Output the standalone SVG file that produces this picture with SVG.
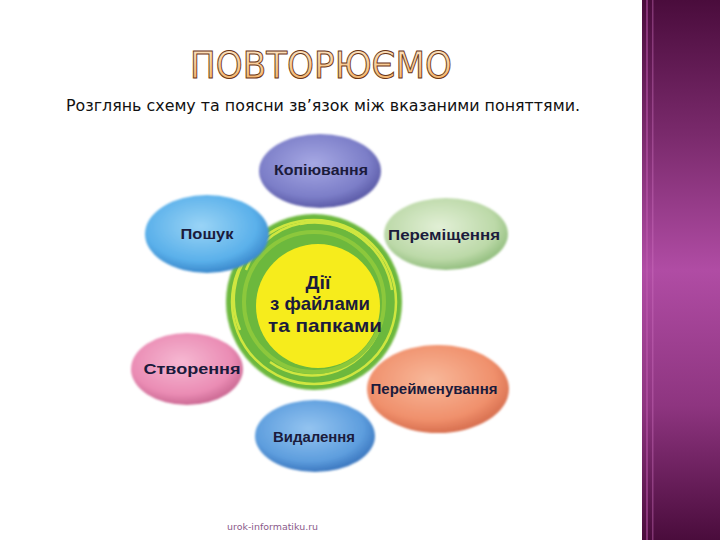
<svg xmlns="http://www.w3.org/2000/svg" width="720" height="540" viewBox="0 0 720 540">
<defs>
<linearGradient id="band" x1="0" y1="0" x2="0" y2="1">
<stop offset="0" stop-color="#4a0c3c"/>
<stop offset="0.25" stop-color="#7a2a6c"/>
<stop offset="0.5" stop-color="#b04ca4"/>
<stop offset="0.75" stop-color="#8e3580"/>
<stop offset="1" stop-color="#4a0c3c"/>
</linearGradient>
<linearGradient id="titleFill" x1="0" y1="0" x2="0" y2="1">
<stop offset="0" stop-color="#fde9cf"/>
<stop offset="0.6" stop-color="#f8c688"/>
<stop offset="1" stop-color="#f3a85a"/>
</linearGradient>
<radialGradient id="gPurple" cx="0.45" cy="0.4" r="0.6">
<stop offset="0" stop-color="#a6a8e4"/><stop offset="0.75" stop-color="#7c7ec8"/><stop offset="1" stop-color="#5c5ca8"/>
</radialGradient>
<radialGradient id="gLBlue" cx="0.45" cy="0.4" r="0.6">
<stop offset="0" stop-color="#9ad4f6"/><stop offset="0.75" stop-color="#5ab0ea"/><stop offset="1" stop-color="#3a88cc"/>
</radialGradient>
<radialGradient id="gGreen" cx="0.45" cy="0.4" r="0.6">
<stop offset="0" stop-color="#e2efd6"/><stop offset="0.75" stop-color="#bcd9a8"/><stop offset="1" stop-color="#94bf80"/>
</radialGradient>
<radialGradient id="gPink" cx="0.45" cy="0.4" r="0.6">
<stop offset="0" stop-color="#f6b8d2"/><stop offset="0.75" stop-color="#ea8cb4"/><stop offset="1" stop-color="#cc6a94"/>
</radialGradient>
<radialGradient id="gSalmon" cx="0.45" cy="0.4" r="0.6">
<stop offset="0" stop-color="#f8b89a"/><stop offset="0.75" stop-color="#f0906c"/><stop offset="1" stop-color="#d87050"/>
</radialGradient>
<radialGradient id="gBlue" cx="0.45" cy="0.4" r="0.6">
<stop offset="0" stop-color="#94c4f0"/><stop offset="0.75" stop-color="#5e9ede"/><stop offset="1" stop-color="#3c78c0"/>
</radialGradient>
<filter id="soft" x="-20%" y="-20%" width="140%" height="140%">
<feGaussianBlur stdDeviation="1.2"/>
</filter>
</defs>
<style>
.lbl{font-family:"Liberation Sans",Arial,sans-serif;font-weight:bold;font-size:14px;fill:#1b1b3c;text-anchor:middle;dominant-baseline:central}
.ctr{font-family:"Liberation Sans",Arial,sans-serif;font-weight:bold;font-size:19px;fill:#1b1b3c;text-anchor:middle}
.ring{fill:none;stroke:#cfe640;stroke-width:2.5}
</style>
<rect width="720" height="540" fill="#ffffff"/>
<rect x="642" y="0" width="78" height="540" fill="url(#band)"/>
<rect x="646" y="0" width="2" height="540" fill="#c05ab0" opacity="0.5"/>
<rect x="652" y="0" width="1.5" height="540" fill="#d070c0" opacity="0.4"/>

<text x="321" y="78" font-family="DejaVu Sans,Verdana,sans-serif" font-size="38" fill="url(#titleFill)" stroke="#6a3616" stroke-width="1" textLength="262" lengthAdjust="spacingAndGlyphs" text-anchor="middle">ПОВТОРЮЄМО</text>
<text x="66" y="111" font-family="DejaVu Sans,Verdana,sans-serif" font-size="15" fill="#111111" textLength="514" lengthAdjust="spacingAndGlyphs">Розглянь схему та поясни зв’язок між вказаними поняттями.</text>

<g id="center">
<circle cx="314" cy="302" r="88" fill="#6cb83c" filter="url(#soft)"/>
<circle cx="314" cy="302" r="82" class="ring"/>
<path class="ring" d="M246 270 A74 74 0 0 1 370 246"/>
<path class="ring" d="M382 320 A72 72 0 0 1 270 362"/>
<path class="ring" d="M240 330 A78 78 0 0 1 250 252" stroke-width="2"/>
<path class="ring" d="M300 224 A78 78 0 0 1 392 290" stroke-width="2"/>
<circle cx="314" cy="302" r="70" fill="none" stroke="#8cc83c" stroke-width="4"/>
<circle cx="318" cy="306" r="62" fill="#f6ec1c"/>
<text class="ctr" x="318" y="289" textLength="25" lengthAdjust="spacingAndGlyphs">Дії</text>
<text class="ctr" x="320" y="310" textLength="100" lengthAdjust="spacingAndGlyphs">з файлами</text>
<text class="ctr" x="325" y="332" textLength="114" lengthAdjust="spacingAndGlyphs">та папками</text>
</g>
<g id="n-copy">
<ellipse cx="320" cy="171" rx="61" ry="37" fill="url(#gPurple)" filter="url(#soft)"/>
<text class="lbl" x="321" y="170" textLength="94" lengthAdjust="spacingAndGlyphs">Копіювання</text>
</g>
<g id="n-search">
<ellipse cx="207" cy="234" rx="62" ry="39" fill="url(#gLBlue)" filter="url(#soft)"/>
<text class="lbl" x="207" y="234" textLength="53" lengthAdjust="spacingAndGlyphs">Пошук</text>
</g>
<g id="n-move">
<ellipse cx="446" cy="234" rx="62" ry="36" fill="url(#gGreen)" filter="url(#soft)"/>
<text class="lbl" x="444" y="235" textLength="112" lengthAdjust="spacingAndGlyphs">Переміщення</text>
</g>
<g id="n-create">
<ellipse cx="187" cy="369" rx="56" ry="36" fill="url(#gPink)" filter="url(#soft)"/>
<text class="lbl" x="192" y="369" textLength="97" lengthAdjust="spacingAndGlyphs">Створення</text>
</g>
<g id="n-rename">
<ellipse cx="438" cy="389" rx="71" ry="44" fill="url(#gSalmon)" filter="url(#soft)"/>
<text class="lbl" x="434" y="389" textLength="127" lengthAdjust="spacingAndGlyphs">Перейменування</text>
</g>
<g id="n-delete">
<ellipse cx="315" cy="436" rx="60" ry="36" fill="url(#gBlue)" filter="url(#soft)"/>
<text class="lbl" x="314" y="437" textLength="82" lengthAdjust="spacingAndGlyphs">Видалення</text>
</g>
<g id="connectors"/>
<text x="227" y="530" font-family="DejaVu Sans,Verdana,sans-serif" font-size="9" fill="#8a5a8a" textLength="91" lengthAdjust="spacingAndGlyphs">urok-informatiku.ru</text>
</svg>
